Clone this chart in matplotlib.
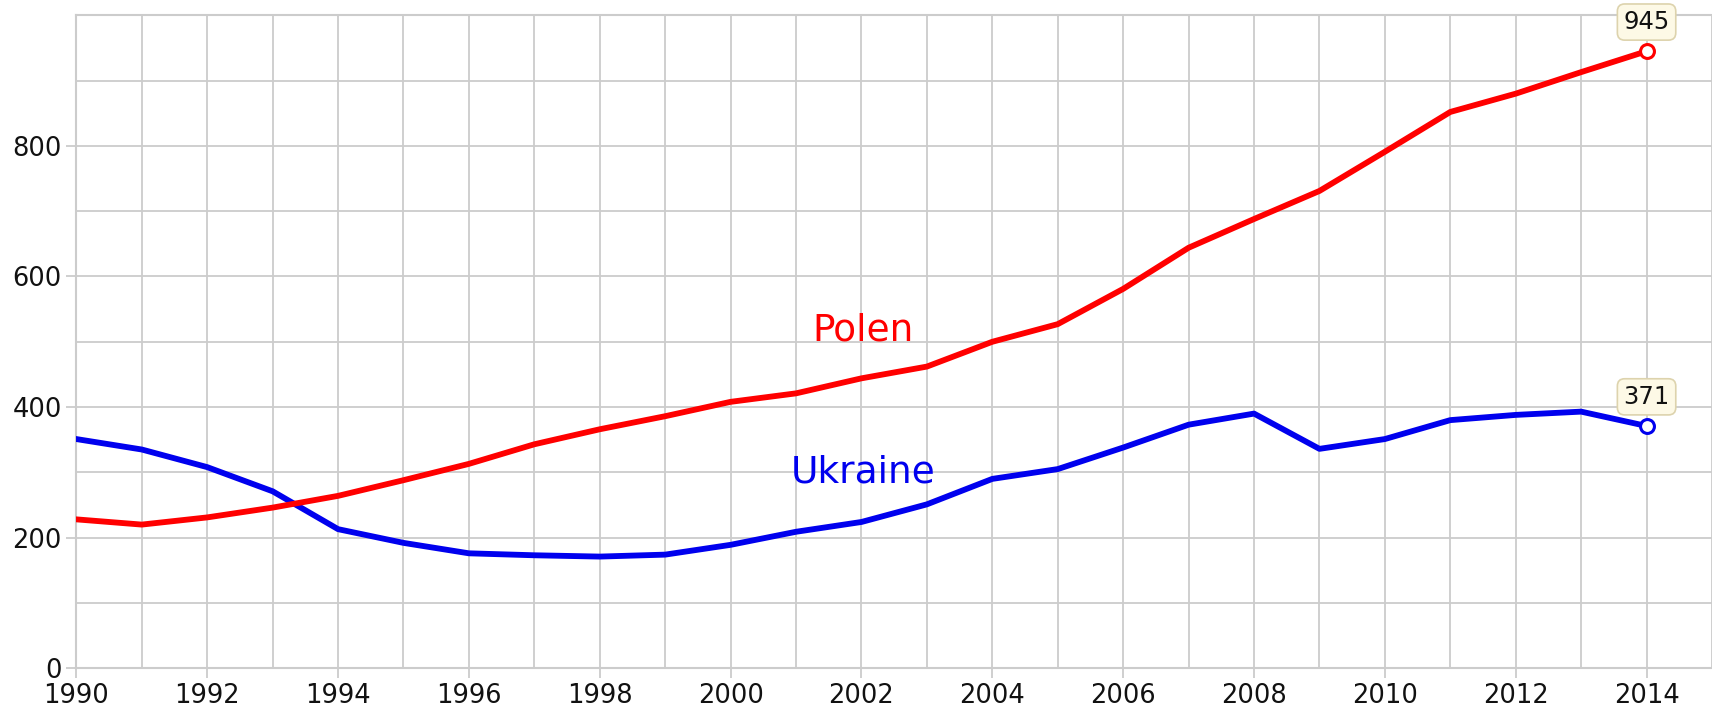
import matplotlib
matplotlib.use("Agg")
import matplotlib.pyplot as plt
from matplotlib.ticker import MultipleLocator, FuncFormatter

years = list(range(1990, 2015))
polen = [228, 220, 231, 246, 264, 288, 313, 343, 366, 386, 408, 421, 444, 462,
         500, 527, 581, 644, 688, 731, 791, 852, 880, 913, 945]
ukraine = [351, 335, 308, 271, 213, 192, 176, 173, 171, 174, 189, 209, 224, 251,
           290, 305, 338, 373, 390, 336, 351, 380, 388, 393, 371]

fig = plt.figure(figsize=(17.12, 7.09), dpi=100)
ax = fig.add_axes([0.0446, 0.0575, 0.9554, 0.9209])

grid_c = "#cccccc"
ax.set_xlim(1990, 2015)
ax.set_ylim(0, 1000)
ax.xaxis.set_major_locator(MultipleLocator(2))
ax.xaxis.set_minor_locator(MultipleLocator(1))
ax.set_yticks([0, 200, 400, 600, 800])
ax.yaxis.set_minor_locator(MultipleLocator(100))
ax.grid(which="both", color=grid_c, linewidth=1.3)
ax.set_axisbelow(True)
ax.spines["right"].set_visible(False)
for s in ["left", "bottom", "top"]:
    ax.spines[s].set_color(grid_c)
    ax.spines[s].set_linewidth(1.5)
ax.tick_params(which="major", color=grid_c, length=7, width=1.3, labelsize=18.5,
               labelcolor="#111111")
ax.tick_params(axis="x", pad=3.5)
ax.tick_params(axis="y", pad=3.5)
ax.tick_params(which="minor", length=0)
ax.xaxis.set_major_formatter(FuncFormatter(lambda v, p: "" if v > 2014 else f"{int(v)}"))

ax.plot(years, ukraine, color="#0000ee", lw=4.2, solid_joinstyle="round", zorder=3)
ax.plot(years, polen, color="#ff0000", lw=4.2, solid_joinstyle="round", zorder=3)
ax.plot(years[-1], ukraine[-1], "o", ms=10, mfc="white", mec="#0000ee", mew=2.2, zorder=4,
        clip_on=False)
ax.plot(years[-1], polen[-1], "o", ms=10, mfc="white", mec="#ff0000", mew=2.2, zorder=4,
        clip_on=False)

box = dict(boxstyle="round,pad=0.25,rounding_size=0.3", fc="#fdf9e6", ec="#ddd3ad", lw=1.2)
for val in (polen[-1], ukraine[-1]):
    ax.annotate(f"{val}", (years[-1], val), xytext=(0, 21),
                textcoords="offset points", ha="center", va="center", fontsize=17.5,
                color="#111111", bbox=box, zorder=5, annotation_clip=False)

ax.text(2002.02, 502, "Polen", color="#ff0000", fontsize=27, ha="center", va="baseline")
ax.text(2002.02, 284, "Ukraine", color="#0000ee", fontsize=27, ha="center", va="baseline")

fig.savefig("out.png", dpi=100, facecolor="white")
